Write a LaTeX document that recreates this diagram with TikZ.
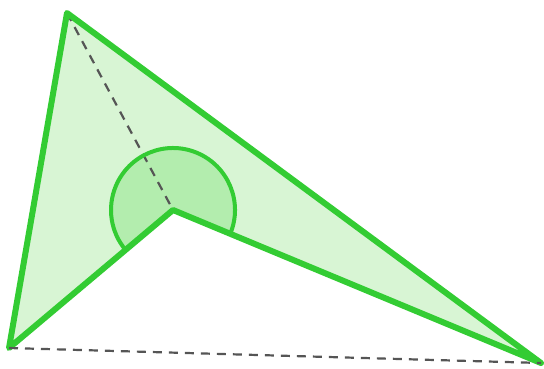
\documentclass[tikz,border=0pt]{standalone}
\usepackage{tikz}
\usetikzlibrary{calc}
\definecolor{dtEdge}{HTML}{33CC33}
\definecolor{dtFill}{HTML}{D8F5D4}
\definecolor{dtAngle}{HTML}{B3EDAE}
\definecolor{dtDash}{HTML}{555555}
\tikzset{
  dt diagram/.style={x=1pt, y=-1pt, line cap=round, line join=round},
  dt edge/.style={draw=dtEdge, line width=6pt},
  dt arc/.style={draw=dtEdge, line width=4pt},
  dt dash/.style={draw=dtDash, line width=2.2pt, dash pattern=on 9pt off 7pt, line cap=butt}
}
\begin{document}
\begin{tikzpicture}[dt diagram]
\useasboundingbox (0,0) rectangle (544,369);
\coordinate (top) at (67,13);
\coordinate (reflex) at (173,210);
\coordinate (left) at (9,348);
\coordinate (right) at (541,363);
% dart body
\fill[dtFill] (top) -- (right) -- (reflex) -- (left) -- cycle;
% reflex angle
\fill[dtAngle] (reflex) -- ++(22.7:62) arc[start angle=22.7, end angle=-220.3, radius=62] -- cycle;
\draw[dt dash] (top) -- (reflex);
\draw[dt arc] ($(reflex)+(22.7:62)$) arc[start angle=22.7, end angle=-220.3, radius=62];
\draw[dt edge] (top) -- (right) -- (reflex) -- (left) -- cycle;
\draw[dt dash] (left) -- (right);
\end{tikzpicture}
\end{document}
